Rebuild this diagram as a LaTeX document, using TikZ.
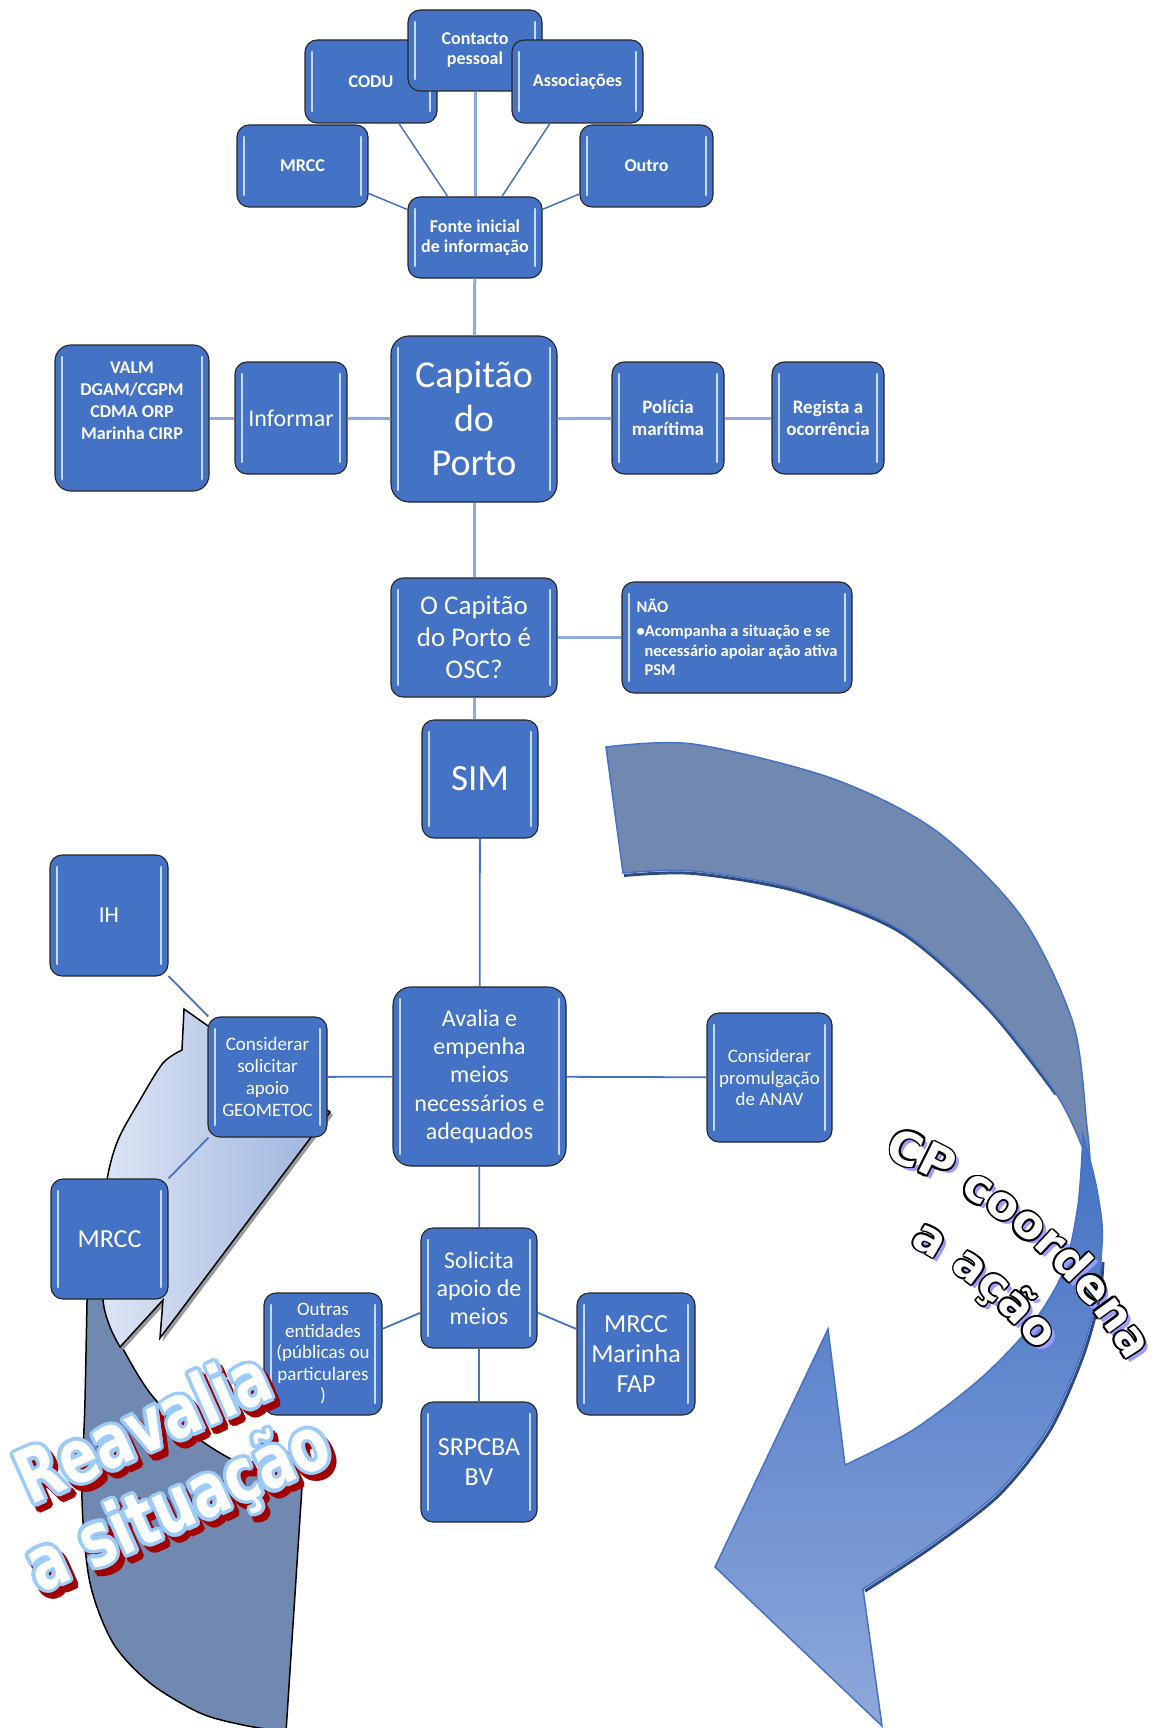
\documentclass[tikz,border=0pt]{standalone}
\usepackage{fontspec}
\setmainfont{Carlito}
\newfontfamily\wafont{DejaVu Sans}
\usetikzlibrary{decorations.text}
\definecolor{boxblue}{HTML}{4472C4}
\definecolor{linklight}{HTML}{8FAADC}
\definecolor{glosscol}{HTML}{C9DAF4}
\definecolor{slate}{HTML}{7189B0}
\definecolor{navy}{HTML}{2F4A80}
\definecolor{frontlow}{HTML}{8EA8DA}
\definecolor{paleface}{HTML}{DDE5F4}
\definecolor{paleface2}{HTML}{9CB3DD}
\definecolor{wared}{HTML}{A00000}
\definecolor{wablue}{HTML}{9CCBF8}
\definecolor{lavender}{HTML}{9C9CFF}
\newcommand\cpfont{\wafont\bfseries\fontsize{46}{46}\selectfont}
\newcommand\reavtext{\scalebox{1}[1.33]{\begin{tabular}{@{}c@{}}Reavalia\\a situação\end{tabular}}}

\tikzset{
	gloss/.style={draw=glosscol, line width=2.4pt, line cap=round},
	box/.style={draw=black!85, line width=1.1pt, fill=boxblue, rounded corners=12pt, text=white, align=center, inner sep=1pt,
		path picture={
			\draw[gloss] ([xshift=7pt,yshift=-12pt]path picture bounding box.north west) -- ([xshift=7pt,yshift=12pt]path picture bounding box.south west);
			\draw[gloss] ([xshift=-7pt,yshift=-12pt]path picture bounding box.north east) -- ([xshift=-7pt,yshift=12pt]path picture bounding box.south east);}},
	dims/.style 2 args={minimum width=#1pt, minimum height=#2pt},
	smallbold/.style={font=\bfseries\fontsize{18}{20}\selectfont},
	toplink/.style={draw=linklight, line width=3pt},
	radlink/.style={draw=boxblue, line width=1.5pt},
	lowlink/.style={draw=boxblue, line width=1.8pt},
	cpline/.style 2 args={decorate, decoration={text along path, text align=center, text color=#1, text={|\cpfont|#2}}},
	wa/.style={font=\wafont\bfseries\fontsize{56}{63}\selectfont, rotate=24, inner sep=0pt}
}

\begin{document}
\begin{tikzpicture}[x=1pt,y=-1pt]
	\useasboundingbox (0,0) rectangle (1173,1728);

	% right arrow
	\draw[navy, line width=3pt, transform canvas={xshift=1pt,yshift=-2.5pt}] plot[smooth] coordinates {(623,873) (693,871) (797,889) (900,930) (987,1006) (1055,1092)};
	\filldraw[fill=slate, draw=boxblue, line width=1.5pt] plot[smooth] coordinates {(606,747) (693,744) (831,778) (935,830) (1021,916) (1073,1023) (1087,1127) (1090,1160)} -- plot[smooth] coordinates {(1081,1144) (1055,1092) (987,1006) (900,930) (797,889) (693,871) (623,873)} -- cycle;
	\draw[navy, line width=3pt, transform canvas={xshift=2pt,yshift=-2pt}] plot[smooth] coordinates {(1101,1260) (1097,1298) (1080,1357) (1047,1430) (997,1493) (930,1545) (863,1589)};
	\path[draw=boxblue, line width=1.5pt, top color=boxblue, bottom color=frontlow] plot[smooth] coordinates {(1083,1135) (1095,1180) (1102,1224) (1101,1260) (1097,1298) (1080,1357) (1047,1430) (997,1493) (930,1545) (863,1589)} -- (882,1726) -- (715,1567) -- (828,1329) -- (845,1465) -- plot[smooth] coordinates {(845,1465) (913,1430) (980,1379) (1030,1327) (1063,1272) (1078,1205) (1083,1135)} -- cycle;

	% left arrow
	\filldraw[fill=slate, draw=black, line width=1.5pt] plot[smooth] coordinates {(302,1487) (233,1460) (187,1430) (150,1393) (120,1343) (103,1300) (99,1250)} -- (88,1250) -- plot[smooth] coordinates {(88,1250) (85,1400) (82,1500) (90,1583) (113,1643) (150,1683) (200,1713) (243,1725) (286,1732)} -- cycle;
	\path[draw=black, line width=1.5pt, left color=paleface, right color=paleface2, preaction={fill=black!40, transform canvas={xshift=3pt,yshift=-3pt}}] plot[smooth] coordinates {(120,1347) (110,1327) (103,1300) (102,1241) (107,1180) (118,1140) (140,1100) (163,1063) (182,1050)} -- (184,1009) -- (330,1112) -- (160,1338) -- (163,1300) -- cycle;

	\node[box, dims={132}{83}, smallbold] (codu) at (371,81.5) {CODU};
	\node[box, dims={134}{81}, smallbold] (contact) at (475,50.5) {Contacto\\pessoal};
	\node[box, dims={131}{83}, smallbold] (assoc) at (577.5,81.5) {Associações};
	\node[box, dims={131}{82}, smallbold] (mrcctop) at (302.5,166) {MRCC};
	\node[box, dims={133}{82}, smallbold] (outro) at (646.5,166) {Outro};
	\node[box, dims={134}{81}, smallbold] (fonte) at (475,237.5) {Fonte inicial\\de informação};

	\node[box, dims={154}{146}, rounded corners=16pt, font=\bfseries\fontsize{18}{22}\selectfont] (valm) at (132,418) {\raisebox{16pt}[\height][\depth]{\begin{tabular}{@{}c@{}}VALM\\DGAM/CGPM\\CDMA ORP\\Marinha CIRP\end{tabular}}};
	\node[box, dims={112}{112}, font=\fontsize{24}{28}\selectfont] (informar) at (291,418) {Informar};
	\node[box, dims={166}{166}, rounded corners=18pt, font=\fontsize{38}{44}\selectfont] (capitao) at (474,419) {Capitão\\do\\Porto};
	\node[box, dims={112}{112}, font=\bfseries\fontsize{19}{22}\selectfont] (policia) at (668,418) {Polícia\\marítima};
	\node[box, dims={112}{112}, font=\bfseries\fontsize{19}{22}\selectfont] (regista) at (828,418) {Regista a\\ocorrência};

	\node[box, dims={166}{119}, font=\fontsize{27}{32}\selectfont] (osc) at (474,637.5) {O Capitão\\do Porto é\\OSC?};
	\node[box, dims={230}{111}, align=left, font=\bfseries\fontsize{16.5}{19.5}\selectfont] (nao) at (737,637.5) {NÃO\\[5pt]\textbullet Acompanha a situação e se\\\hspace*{8pt}necessário apoiar ação ativa\\\hspace*{8pt}PSM};
	\node[box, dims={116}{118}, font=\fontsize{37}{40}\selectfont] (sim) at (480,779) {SIM};

	\node[box, dims={118}{121}, font=\fontsize{23}{26}\selectfont] (ih) at (109,915.5) {IH};
	\node[box, dims={119}{120}, font=\fontsize{19}{21.7}\selectfont] (geometoc) at (267.5,1077) {Considerar\\solicitar\\apoio\\GEOMETOC};
	\node[box, dims={173}{179}, rounded corners=18pt, font=\fontsize{24}{28.3}\selectfont] (avalia) at (479.5,1076.5) {Avalia e\\empenha\\meios\\necessários e\\adequados};
	\node[box, dims={125}{129}, font=\fontsize{19}{21.7}\selectfont] (anav) at (769.5,1077.5) {Considerar\\promulgação\\de ANAV};
	\node[box, dims={117}{120}, font=\fontsize{26}{30}\selectfont] (mrccleft) at (109.5,1239) {MRCC};

	\node[box, dims={116}{120}, font=\fontsize{24}{28}\selectfont] (solicita) at (479,1288) {Solicita\\apoio de\\meios};
	\node[box, dims={118}{122}, font=\fontsize{19}{21.5}\selectfont] (outras) at (323,1354) {Outras\\entidades\\(públicas ou\\particulares\\)};
	\node[box, dims={118}{122}, font=\fontsize{26}{30}\selectfont] (mrccmar) at (636,1354) {MRCC\\Marinha\\FAP};
	\node[box, dims={116}{120}, font=\fontsize{26}{30}\selectfont] (srpcba) at (479,1462) {SRPCBA\\BV};

	\draw[radlink] (codu) -- (fonte);
	\draw[radlink] (assoc) -- (fonte);
	\draw[radlink] (mrcctop) -- (fonte);
	\draw[radlink] (outro) -- (fonte);
	\draw[toplink] (contact) -- (fonte);
	\draw[toplink] (fonte) -- (capitao);
	\draw[toplink] (valm) -- (informar);
	\draw[toplink] (informar) -- (capitao);
	\draw[toplink] (capitao) -- (policia);
	\draw[toplink] (policia) -- (regista);
	\draw[toplink] (capitao) -- (osc);
	\draw[toplink] (osc) -- (nao);
	\draw[toplink] (osc.south) -- (osc.south |- sim.north);
	\draw[lowlink] (sim) -- (avalia);
	\draw[lowlink] (geometoc) -- (avalia);
	\draw[lowlink] (avalia) -- (anav);
	\draw[lowlink] (ih) -- (geometoc);
	\draw[lowlink] (mrccleft) -- (geometoc);
	\draw[lowlink] (avalia) -- (solicita);
	\draw[lowlink] (solicita) -- (outras);
	\draw[lowlink] (solicita) -- (mrccmar);
	\draw[lowlink] (solicita) -- (srpcba);

	% CP coordena a ação
	\path[cpline={lavender}{CP coordena}, shift={(4,4)}] (720,1600) ++(-74:472) arc[start angle=-74, end angle=-26, radius=472];
	\path[cpline={lavender}{a ação}, shift={(4,4)}] (720,1600) ++(-74:403) arc[start angle=-74, end angle=-26, radius=403];
	\foreach \a in {0,45,...,315} {
		\path[cpline={black}{CP coordena}, shift={(\a:1.8)}] (720,1600) ++(-74:472) arc[start angle=-74, end angle=-26, radius=472];
		\path[cpline={black}{a ação}, shift={(\a:1.8)}] (720,1600) ++(-74:403) arc[start angle=-74, end angle=-26, radius=403];
	}
	\path[cpline={white}{CP coordena}] (720,1600) ++(-74:472) arc[start angle=-74, end angle=-26, radius=472];
	\path[cpline={white}{a ação}] (720,1600) ++(-74:403) arc[start angle=-74, end angle=-26, radius=403];

	% Reavalia a situação
	\foreach \a in {0,30,...,330}
		\node[wa, text=wared] (rvs\a) at ([shift={(\a:3.5)}]169,1480) {\reavtext};
	\foreach \a in {0,22.5,...,337.5}
		\node[wa, text=wablue] (rvo\a) at ([shift={(\a:3.5)}]164,1474) {\reavtext};
	\node[wa, text=white] (reavalia) at (164,1474) {\reavtext};
\end{tikzpicture}
\end{document}
